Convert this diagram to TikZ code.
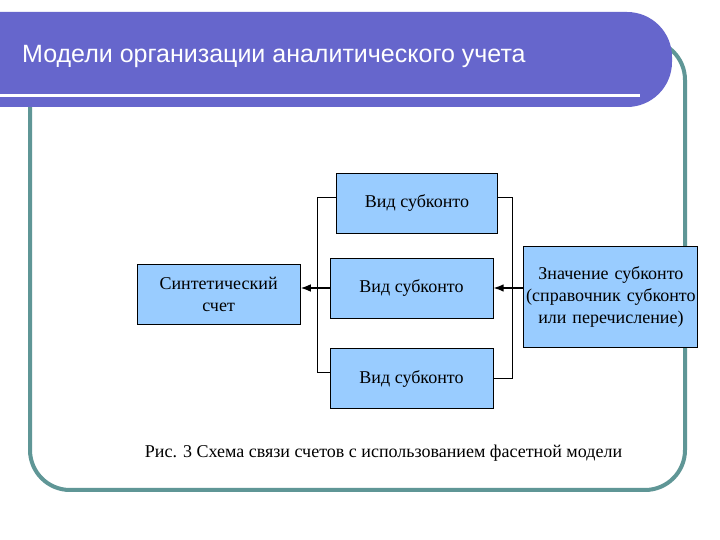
\documentclass[tikz,border=0pt]{standalone}
\usepackage{fontspec}
\setmainfont{Liberation Serif}
\newfontfamily\titlefont{Liberation Sans}
\usepackage{tikz}
\usepackage{xcolor}
\usetikzlibrary{arrows.meta,calc,positioning}
\definecolor{barblue}{RGB}{102,102,204}
\definecolor{frameteal}{RGB}{95,150,150}
\definecolor{boxblue}{RGB}{153,204,255}

\begin{document}
\begin{tikzpicture}[x=1pt,y=1pt,>=Latex,
box/.style={draw,fill=boxblue,line width=0.9pt,minimum width=163pt,minimum height=60pt,inner sep=2pt,align=center,font=\fontsize{18}{22}\selectfont},
frame/.style={draw=frameteal,line width=4pt,rounded corners=40pt},
link/.style={line width=0.9pt},
flow/.style={->,line width=1.6pt},
captext/.style={font=\fontsize{18}{22}\selectfont}]
\useasboundingbox[fill=white] (0,0) rectangle (720,540);
% slide frame and title bar
\draw[frame] (30,50) rectangle (685,500);
\fill[barblue] (0,433) -- (0,528) -- (627,528) arc[start angle=90,end angle=0,radius=45pt]
  -- (672,478) arc[start angle=0,end angle=-90,radius=45pt] -- cycle;
\draw[white,line width=3pt] (0,444) -- (640,444);
\node[anchor=base west,inner sep=0pt,text=white,font=\titlefont\fontsize{25}{30}\selectfont] (title) at (22,477) {Модели организации аналитического учета};
% diagram
\node[box] (mid) at (411.5,252) {Вид субконто};
\node[box,above=24pt of mid,xshift=5.5pt,minimum width=161pt] (top) {Вид субконто};
\node[box,below=30pt of mid] (bot) {Вид субконто};
\node[box,left=29pt of mid,yshift=-6pt] (synth) {Синтетический\\счет};
\node[box,right=30pt of mid,yshift=-8.5pt,minimum width=174pt,minimum height=101pt,text width=174pt,inner sep=0pt] (val) {Значение субконто\\(справочник субконто\\или перечисление)};
\draw[link] ([yshift=6pt]top.west) -- ++(-18.5pt,0) |- ([yshift=6pt]bot.west);
\draw[link] ([yshift=6pt]top.east) -- ++(14pt,0) |- (bot.east);
\draw[flow] (mid.west) -- (synth.east |- mid.west);
\draw[flow] (val.west |- mid.east) -- (mid.east);
\node[captext,anchor=base] (caption) at (383.5,82) {Рис. 3 Схема связи счетов с использованием фасетной модели};
\end{tikzpicture}
\end{document}
